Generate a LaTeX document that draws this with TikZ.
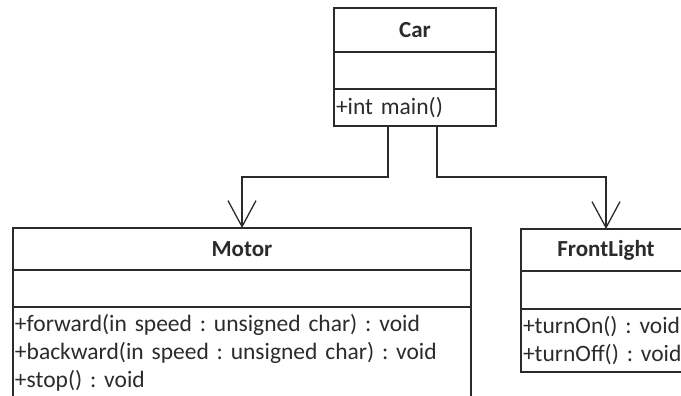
\documentclass[tikz,border=0pt]{standalone}
\usepackage{fontspec}
\setmainfont{Carlito}
\usetikzlibrary{positioning,arrows.meta}
\frenchspacing

\definecolor{umlline}{HTML}{2B2B2B}

\tikzset{
	classname/.style={draw=umlline, line width=1.3pt, outer sep=0pt, inner sep=0pt,
		font=\bfseries\fontsize{23}{28}\selectfont, text=umlline},
	classpart/.style={draw=umlline, line width=1.3pt, outer sep=0pt, inner xsep=2pt, inner ysep=0pt,
		align=left, font=\fontsize{23.5}{28}\selectfont, text=umlline},
	uses/.style={draw=umlline, line width=1.3pt, -{Straight Barb[length=26pt,width=28pt,line width=1.3pt]}}
}

\begin{document}
\begin{tikzpicture}[x=1pt, y=-1pt]
	\clip (0,0) rectangle (681,396);
	% Car
	\node[classname, minimum width=162pt, minimum height=44pt] (car) at (415,30) {Car};
	\node[classpart, below=0pt of car, text width=158pt, minimum height=37pt] (carattr) {};
	\node[classpart, below=0pt of carattr, text width=158pt, minimum height=37pt] (carops) {+int main()};
	% Motor
	\node[classname, minimum width=458pt, minimum height=42pt] (motor) at (242,249) {Motor};
	\node[classpart, below=0pt of motor, text width=454pt, minimum height=37pt] (motorattr) {};
	\node[classpart, below=0pt of motorattr, text width=454pt, minimum height=91pt] (motorops)
		{+forward(in speed : unsigned char) : void\\+backward(in speed : unsigned char) : void\\+stop() : void};
	% FrontLight
	\node[classname, minimum width=170pt, minimum height=42pt] (light) at (606,250) {FrontLight};
	\node[classpart, below=0pt of light, text width=166pt, minimum height=38pt] (lightattr) {};
	\node[classpart, below=0pt of lightattr, text width=166pt, minimum height=63pt] (lightops)
		{+turnOn() : void\\+turnOff() : void};
	% connectors
	\coordinate (carL) at ([xshift=-27pt]carops.south);
	\coordinate (carR) at ([xshift=22pt]carops.south);
	\draw[uses] (carL) -- ++(0,51) -| (motor.north);
	\draw[uses] (carR) -- ++(0,51) -| (light.north);
\end{tikzpicture}
\end{document}
